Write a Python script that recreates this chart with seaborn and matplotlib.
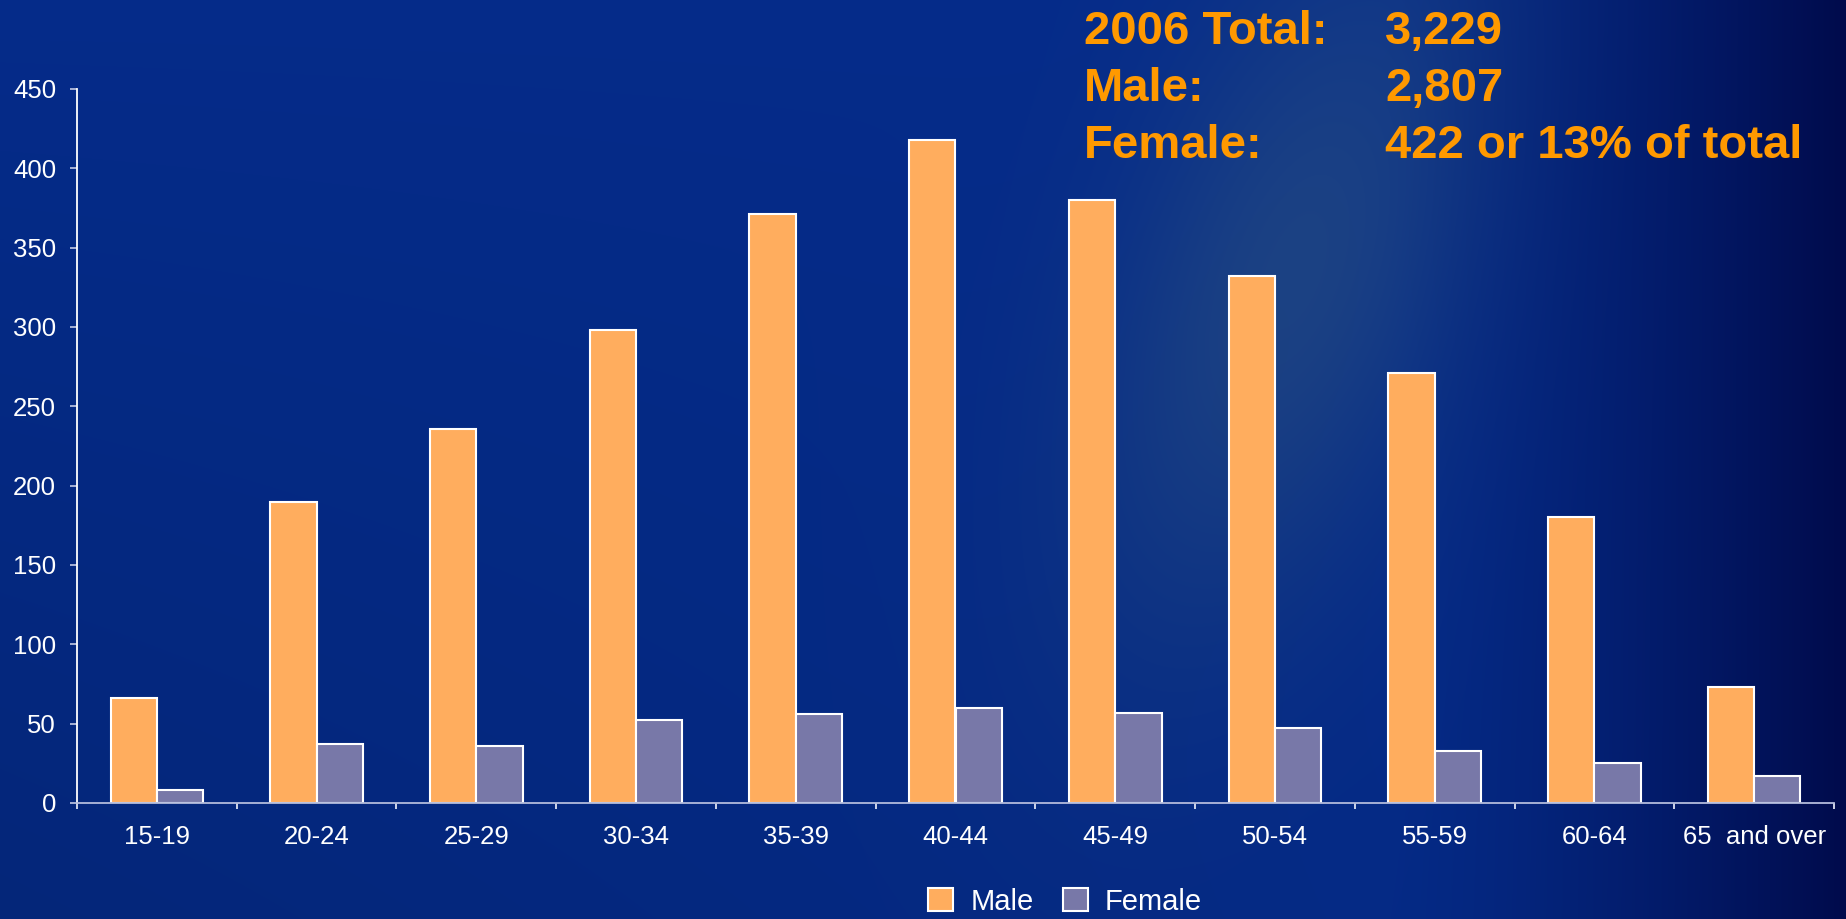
import numpy as np
import pandas as pd
import matplotlib
matplotlib.use("Agg")
import matplotlib.pyplot as plt
from matplotlib.patches import Patch
import seaborn as sns

# data
age_groups = ["15-19", "20-24", "25-29", "30-34", "35-39", "40-44",
              "45-49", "50-54", "55-59", "60-64", "65  and over"]
male = [66, 190, 236, 298, 371, 418, 380, 332, 271, 180, 73]
female = [8, 37, 36, 52, 56, 60, 57, 47, 33, 25, 17]
y_ticks = [0, 50, 100, 150, 200, 250, 300, 350, 400, 450]
summary_labels = ["2006 Total:", "Male:", "Female:"]
summary_values = ["3,229", "2,807", "422 or 13% of total"]

palette = {"Male": "#FFAD5E", "Female": "#7878A8"}

sns.set_style("white")
plt.rcParams["font.family"] = ["Liberation Sans", "DejaVu Sans"]

W, H = 1846, 919
fig = plt.figure(figsize=(W / 100, H / 100), dpi=100)

# slide background: blue with a soft diagonal glow and a darker right edge
bg_ax = fig.add_axes([0, 0, 1, 1], zorder=0)
bg_ax.set_axis_off()
yy, xx = np.mgrid[0:H, 0:W].astype(float)
base = np.array([0.02, 0.17, 0.54])
img = np.ones((H, W, 3)) * base
# rotated elongated glow
u = (xx - 1290) * np.cos(0.35) + (yy - 280) * np.sin(0.35)
v = -(xx - 1290) * np.sin(0.35) + (yy - 280) * np.cos(0.35)
glow = np.exp(-((u / 170) ** 2 + (v / 380) ** 2))
img += glow[..., None] * np.array([0.09, 0.09, -0.02])
dark = np.clip((xx - 1380) / (W - 1380), 0, 1) ** 1.4
img *= (1 - np.array([0.9, 0.75, 0.45]) * dark[..., None])
img *= (1 - 0.12 * (yy / H) * (1 - xx / W))[..., None]
bg_ax.imshow(np.clip(img, 0, 1), aspect="auto", extent=[0, 1, 0, 1])
bg_ax.set_xlim(0, 1)
bg_ax.set_ylim(0, 1)

ax = fig.add_axes([77 / W, 1 - 803 / H, (1834 - 77) / W, (803 - 89) / H], zorder=1)
ax.patch.set_alpha(0)

df = pd.DataFrame({
    "Age": age_groups * 2,
    "Count": male + female,
    "Sex": ["Male"] * len(male) + ["Female"] * len(female),
})
sns.barplot(data=df, x="Age", y="Count", hue="Sex", order=age_groups,
            hue_order=["Male", "Female"], palette=palette, width=0.58,
            edgecolor="white", linewidth=1.5, saturation=1, legend=False, ax=ax)

ax.set_xlim(-0.5, len(age_groups) - 0.5)
ax.set_ylim(0, 450)
ax.set_yticks(y_ticks)
ax.set_xlabel("")
ax.set_ylabel("")

for s in ["top", "right"]:
    ax.spines[s].set_visible(False)
ax.spines["left"].set_color("white")
ax.spines["left"].set_linewidth(1.3)
ax.spines["bottom"].set_color("#B4BCDC")
ax.spines["bottom"].set_linewidth(1.3)

ax.tick_params(axis="y", direction="out", length=5, width=1.3, color="#B4BCDC",
               labelsize=18.5, labelcolor="white", pad=10, left=True)
ax.tick_params(axis="x", which="major", length=0, labelsize=18.5,
               labelcolor="white", pad=16)
ax.set_xticks(np.arange(-0.5, len(age_groups), 1.0), minor=True)
ax.tick_params(axis="x", which="minor", direction="out", length=4.5, width=1.3,
               color="#DDE2F2", bottom=True)

# legend at the bottom
handles = [Patch(facecolor=palette[k], edgecolor="white", linewidth=1.5, label=k)
           for k in ["Male", "Female"]]
fig.legend(handles=handles, loc="center", bbox_to_anchor=(0.577, 0.019), ncol=2,
           frameon=False, fontsize=21, labelcolor="white", handlelength=0.85,
           handleheight=0.8, handletextpad=0.6, columnspacing=1.0)

# summary text block in the top right
for i, (lab, val) in enumerate(zip(summary_labels, summary_values)):
    yb = 1 - (44 + 57 * i) / H
    fig.text(1084 / W, yb, lab, color="#FF9900", fontsize=34, fontweight="bold",
             ha="left", va="baseline")
    fig.text(1385 / W, yb, val, color="#FF9900", fontsize=34, fontweight="bold",
             ha="left", va="baseline")

fig.savefig("out.png", dpi=100)
